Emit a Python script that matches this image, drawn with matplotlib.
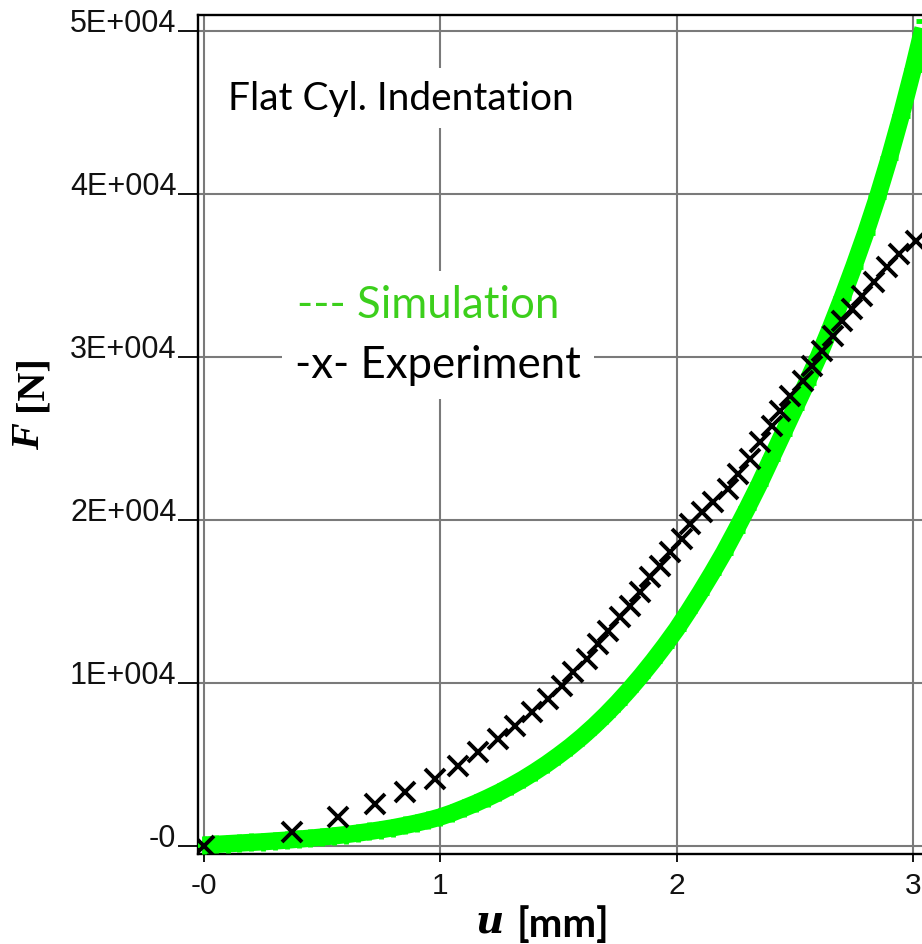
import matplotlib
matplotlib.use("Agg")
import matplotlib.pyplot as plt

# ---------------- data ----------------
exp_u = [0.0, 0.372, 0.567, 0.723, 0.850, 0.977, 1.074, 1.159, 1.243, 1.315,
         1.387, 1.455, 1.514, 1.560, 1.619, 1.666, 1.708, 1.759, 1.801, 1.844,
         1.886, 1.928, 1.970, 2.021, 2.055, 2.106, 2.152, 2.216, 2.258, 2.309,
         2.351, 2.402, 2.436, 2.478, 2.533, 2.575, 2.617, 2.660, 2.698, 2.744,
         2.786, 2.837, 2.892, 2.943, 3.015]
exp_F = [0, 860, 1780, 2580, 3310, 4110, 4910, 5770, 6560, 7360,
         8220, 9020, 9820, 10680, 11470, 12390, 13190, 14050, 14720, 15580,
         16500, 17180, 18040, 18830, 19760, 20490, 21100, 21900, 22820, 23740,
         24790, 25770, 26690, 27610, 28530, 29450, 30370, 31290, 32210, 32950,
         33740, 34600, 35520, 36320, 37120]

sim_u = [0.00, 0.05, 0.10, 0.15, 0.20, 0.25, 0.30, 0.35, 0.40, 0.45,
         0.50, 0.55, 0.60, 0.65, 0.70, 0.75, 0.80, 0.85, 0.90, 0.95,
         1.00, 1.05, 1.10, 1.15, 1.20, 1.25, 1.30, 1.35, 1.40, 1.45,
         1.50, 1.55, 1.60, 1.65, 1.70, 1.75, 1.80, 1.85, 1.90, 1.95,
         2.00, 2.05, 2.10, 2.15, 2.20, 2.25, 2.30, 2.35, 2.40, 2.45,
         2.50, 2.55, 2.60, 2.65, 2.70, 2.75, 2.80, 2.85, 2.90, 2.95,
         3.00, 3.05]
sim_F = [50, 100, 140, 180, 220, 260, 310, 360, 420, 480,
         550, 620, 700, 790, 890, 1000, 1120, 1260, 1410, 1580,
         1780, 2030, 2320, 2620, 2950, 3300, 3690, 4100, 4550, 5030,
         5550, 6100, 6700, 7350, 8050, 8800, 9600, 10450, 11350, 12300,
         13300, 14400, 15550, 16750, 18000, 19350, 20750, 22200, 23750, 25300,
         26850, 28400, 30000, 31750, 33600, 35550, 37600, 39800, 42200, 44800,
         47600, 50600]

xticks = [0, 1, 2, 3]
xtick_labels = ["-0", "1", "2", "3"]
yticks = [0, 10000, 20000, 30000, 40000, 50000]
ytick_labels = ["-0", "1E+004", "2E+004", "3E+004", "4E+004", "5E+004"]

title_text = "Flat Cyl. Indentation"
sim_label = "--- Simulation"
exp_label = "-x- Experiment"

# ---------------- figure ----------------
W, H = 922, 945
fig = plt.figure(figsize=(W / 100, H / 100), dpi=100)

def fx(px):
    return px / W

def fy(py):
    return 1 - py / H

# axes box in pixels: left spine 198, top 16, bottom 855, right beyond image edge
ax = fig.add_axes([fx(198), fy(855), fx(922) - fx(198), fy(16) - fy(855)])
ax.set_xlim(-0.0254, 3.0385)
ax.set_ylim(-491, 50982)

grid_col = "#7a7a7a"
ax.set_xticks(xticks)
ax.set_yticks(yticks)
ax.grid(True, color=grid_col, lw=1.5, zorder=0)
ax.set_axisbelow(True)

for s in ["left", "top", "bottom"]:
    ax.spines[s].set_color("black")
    ax.spines[s].set_linewidth(1.7)
ax.spines["right"].set_visible(False)

ax.set_xticklabels(xtick_labels, fontfamily="Liberation Sans", fontsize=21.5, color="#111111")
ax.set_yticklabels(ytick_labels, fontfamily="Liberation Sans", fontsize=22, color="#111111")
ax.tick_params(axis="x", direction="out", length=6, width=1.3, pad=6.5, colors="black",
               labelcolor="#111111")
ax.tick_params(axis="y", direction="out", length=14.5, width=1.3, pad=1.0, colors="black",
               labelcolor="#111111")
for lab in ax.get_yticklabels():
    lab.set_verticalalignment("baseline")

# simulation: dense green '+' band
ax.plot(sim_u, sim_F, color="#00ff00", lw=12.5, solid_capstyle="butt",
        solid_joinstyle="round", zorder=3)
ax.plot(sim_u, sim_F, color="#00ff00", lw=0, marker="+", ms=13, mew=3.5, zorder=3)

# experiment: black x markers
ax.plot(exp_u, exp_F, color="black", lw=0, marker="x", ms=14.5, mew=2.8, zorder=4)

# ---------------- annotations ----------------
box = dict(boxstyle="square,pad=0.3", facecolor="white", edgecolor="none")
fig.text(fx(228), fy(99), title_text, fontfamily="Lato", fontsize=28,
         color="black", ha="left", va="center", bbox=box, zorder=10)
fig.text(fx(297), fy(306), sim_label, fontfamily="Lato", fontsize=31.5,
         color="#3ccf1c", ha="left", va="center", bbox=box, zorder=10)
fig.text(fx(295), fy(366), exp_label, fontfamily="Lato", fontsize=31.5,
         color="black", ha="left", va="center", bbox=box, zorder=10)

# axis labels
fig.text(fx(30), fy(437), "F", fontfamily="Liberation Serif", fontweight="bold",
         fontstyle="italic", fontsize=29, rotation=90, ha="center", va="center")
fig.text(fx(32), fy(383), "[N]", fontfamily="Liberation Serif", fontweight="bold",
         fontsize=29, rotation=90, ha="center", va="center")
fig.text(fx(490), fy(922), "u", fontfamily="DejaVu Serif", fontweight="bold",
         fontstyle="italic", fontsize=28, ha="center", va="center")
fig.text(fx(563), fy(925), "[mm]", fontfamily="Lato", fontweight="bold",
         fontsize=29, ha="center", va="center")

fig.savefig("out.png", dpi=100)
